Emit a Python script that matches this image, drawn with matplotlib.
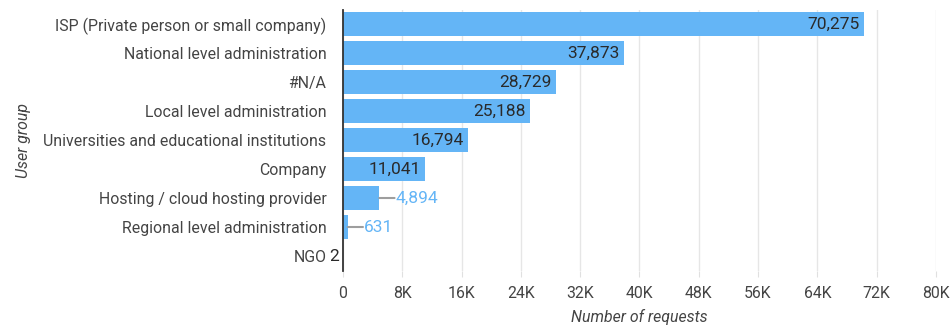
import matplotlib
matplotlib.use('Agg')
import matplotlib.pyplot as plt
from matplotlib.ticker import FuncFormatter

plt.rcParams['font.family'] = ['Roboto', 'DejaVu Sans']

# data
groups = ['ISP (Private person or small company)', 'National level administration', '#N/A',
          'Local level administration', 'Universities and educational institutions', 'Company',
          'Hosting / cloud hosting provider', 'Regional level administration', 'NGO']
requests = [70275, 37873, 28729, 25188, 16794, 11041, 4894, 631, 2]
x_ticks = [0, 8000, 16000, 24000, 32000, 40000, 48000, 56000, 64000, 72000, 80000]

bar_color = '#64b5f6'
text_color = '#444444'

fig = plt.figure(figsize=(9.51, 3.28), dpi=100)
ax = fig.add_axes([0.3607, 0.1753, 0.6235, 0.7957])

pos = list(range(len(groups)))
ax.barh(pos, requests, height=0.86, color=bar_color, zorder=2)
ax.set_ylim(len(groups) - 0.5, -0.5)
ax.set_xlim(0, 80000)
ax.set_yticks(pos)
ax.set_yticklabels(groups, fontsize=11.4, color=text_color)
ax.set_xticks(x_ticks)
ax.xaxis.set_major_formatter(FuncFormatter(lambda v, p: '0' if v == 0 else '%dK' % (v / 1000)))
ax.tick_params(axis='x', labelsize=11.4, labelcolor=text_color, length=4, color='#e0e0e0', pad=7)
ax.tick_params(axis='y', length=0, pad=12)

ax.grid(axis='x', color='#e6e6e6', linewidth=1, zorder=0)
for s in ['top', 'right', 'bottom']:
    ax.spines[s].set_visible(False)
ax.spines['left'].set_color('#333333')
ax.spines['left'].set_linewidth(1.3)
ax.spines['left'].set_zorder(3)

# value labels
for i, v in enumerate(requests):
    txt = '{:,}'.format(v)
    if 100 < v < 8000:
        ax.annotate('', xy=(v, i), xytext=(11, 0), textcoords='offset points',
                    arrowprops=dict(arrowstyle='-', color='#9e9e9e', lw=1.5, shrinkA=0, shrinkB=0))
        ax.annotate(txt, xy=(v, i), xytext=(11.5, 0), textcoords='offset points',
                    ha='left', va='center', fontsize=12.5, color=bar_color)
    else:
        ax.annotate(txt, xy=(v, i), xytext=(-3, 0), textcoords='offset points',
                    ha='right', va='center', fontsize=12.5, color='#2a2a2a', zorder=4)

ax.set_xlabel('Number of requests', fontsize=11.4, style='italic', color=text_color, labelpad=6)
ax.set_ylabel('User group', fontsize=11.4, style='italic', color=text_color, labelpad=9)

fig.savefig('out.png', dpi=100)
